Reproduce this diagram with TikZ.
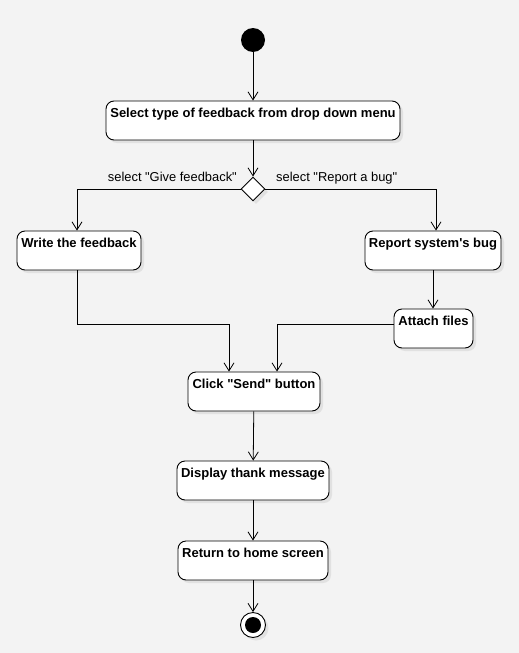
\documentclass[tikz,border=0pt]{standalone}
\usepackage{fontspec}
\setmainfont{Liberation Sans}[Ligatures=TeXOff]
\usetikzlibrary{arrows.meta,shapes.geometric,shadows}
\definecolor{bg}{RGB}{243,243,243}
\begin{document}
\begin{tikzpicture}[x=1pt,y=-1pt,
  act/.style={draw, rounded corners=8pt, fill=white, line width=0.9pt,
    font=\bfseries\fontsize{13}{15}\selectfont, text height=12.5pt, text depth=18.5pt,
    inner ysep=4pt, inner xsep=2pt, align=center,
    drop shadow={opacity=0.15, shadow xshift=3pt, shadow yshift=-3pt}},
  arr/.style={draw, line width=0.8pt, -{Straight Barb[length=8pt,width=10pt]}},
  lbl/.style={font=\fontsize{12.9}{15}\selectfont, inner sep=0pt}]
\fill[bg] (0,0) rectangle (519,653);
\useasboundingbox (0,0) rectangle (519,653);
\node[circle, fill=black, minimum size=24pt, inner sep=0pt] (start) at (253,40) {};
\node[act, minimum width=294pt] (sel) at (253,120.5) {Select type of feedback from drop down menu};
\node[diamond, draw, fill=white, minimum width=24pt, minimum height=24pt, inner sep=0pt, line width=0.9pt,
  drop shadow={opacity=0.15, shadow xshift=3pt, shadow yshift=-3pt}] (dec) at (253,189) {};
\node[act, minimum width=124pt] (write) at (79,250.5) {Write the feedback};
\node[act, minimum width=136pt] (bug) at (433,250.5) {Report system's bug};
\node[act, minimum width=79pt] (att) at (433.5,328.5) {Attach files};
\node[act, minimum width=132pt] (click) at (254,391.5) {Click "Send" button};
\node[act, minimum width=152pt] (disp) at (253,480.5) {Display thank message};
\node[act, minimum width=150pt] (ret) at (253,560.5) {Return to home screen};
\node[circle, draw, fill=white, minimum size=25pt, inner sep=0pt, line width=0.9pt,
  drop shadow={opacity=0.15, shadow xshift=3pt, shadow yshift=-3pt}] (end) at (253,625) {};
\node[circle, fill=black, minimum size=16pt, inner sep=0pt] (endin) at (end) {};
\node[lbl, anchor=base east] (lg) at (237,181.5) {select "Give feedback"};
\node[lbl, anchor=base west] (lr) at (276,181) {select "Report a bug"};
\coordinate (j1) at (229,324);
\coordinate (j2) at (277,324);
\draw[arr] (start) -- (sel);
\draw[arr] (sel) -- (dec);
\draw[arr] (dec.west) -| ([xshift=-2pt]write.north);
\draw[arr] (dec.east) -| ([xshift=3pt]bug.north);
\draw[arr] (bug.south) -- (bug.south |- att.north);
\draw[arr] ([xshift=-2pt]write.south) |- (j1) -- (j1 |- click.north);
\draw[arr] (att.west |- j2) -- (j2) -- (j2 |- click.north);
\draw[arr] (click) -- (disp);
\draw[arr] (disp) -- (ret);
\draw[arr] (ret) -- (end);
\end{tikzpicture}
\end{document}
